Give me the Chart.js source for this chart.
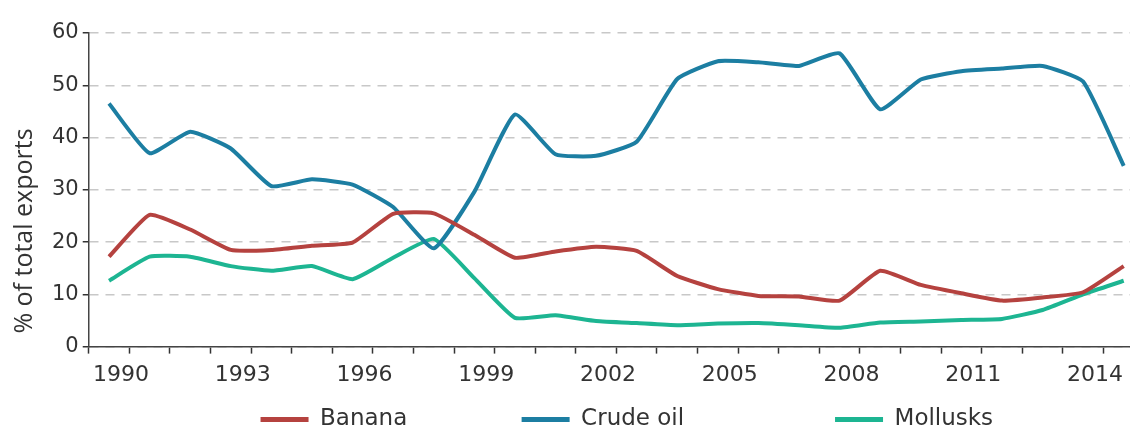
<!DOCTYPE html>
<html>
<head>
<meta charset="utf-8">
<script src="https://cdn.jsdelivr.net/npm/chart.js@4/dist/chart.umd.min.js"></script>
<style>
  html, body { margin: 0; padding: 0; background: #fff; overflow: hidden; }
  #wrap { width: 1150px; height: 441px; }
</style>
</head>
<body>
<div id="wrap"><canvas id="exportsChart"></canvas></div>
<script>
const years = ['1990', '1991', '1992', '1993', '1994', '1995', '1996', '1997', '1998', '1999',
    '2000', '2001', '2002', '2003', '2004', '2005', '2006', '2007', '2008', '2009',
    '2010', '2011', '2012', '2013', '2014', '2015'];
const banana = [17.2, 25.2, 22.4, 18.5, 18.5, 19.3, 19.9, 25.4, 25.5, 21.4,
    17.0, 18.2, 19.1, 18.3, 13.5, 11.0, 9.7, 9.6, 8.8, 14.5,
    11.8, 10.2, 8.8, 9.4, 10.4, 15.4];
const crudeOil = [46.5, 37.0, 41.1, 37.9, 30.7, 32.0, 31.0, 26.7, 18.8, 29.6,
    44.4, 36.8, 36.5, 39.2, 51.2, 54.6, 54.4, 53.7, 56.1, 45.4,
    51.1, 52.7, 53.2, 53.7, 50.7, 34.6];
const mollusks = [12.6, 17.2, 17.2, 15.4, 14.5, 15.4, 12.9, 17.0, 20.6, 13.1,
    5.5, 6.0, 4.9, 4.5, 4.1, 4.4, 4.5, 4.1, 3.6, 4.6,
    4.8, 5.1, 5.3, 7.0, 10.0, 12.6];

// extra room after each legend entry (spaces), to spread them like the original
const legendGap = [' '.repeat(14), ' '.repeat(19), ' '.repeat(19)];

document.addEventListener('DOMContentLoaded', () => {
    const ctx = document.getElementById('exportsChart').getContext('2d');
    const line = (label, data, color) => ({
        label: label,
        data: data,
        borderColor: color,
        backgroundColor: color,
        borderWidth: 4,
        pointRadius: 0,
        tension: 0.15,
        fill: false
    });
    new Chart(ctx, {
        type: 'line',
        data: {
            labels: years,
            datasets: [
                line('Banana', banana, '#b5423f'),
                line('Crude oil', crudeOil, '#1c7ea2'),
                line('Mollusks', mollusks, '#1db592')
            ]
        },
        options: {
            responsive: true,
            maintainAspectRatio: false,
            animation: false,
            layout: { padding: { top: 33, right: 6, left: 4, bottom: 0 } },
            plugins: {
                tooltip: { enabled: false },
                legend: {
                    position: 'bottom',
                    fullSize: false,
                    align: 'end',
                    labels: {
                        boxWidth: 48,
                        boxHeight: 5,
                        padding: 12,
                        color: '#333',
                        font: { family: 'DejaVu Sans', size: 23 },
                        generateLabels: (chart) => {
                            const items = Chart.defaults.plugins.legend.labels.generateLabels(chart);
                            items.forEach((it, i) => {
                                it.text += legendGap[i];
                                it.lineWidth = 0;
                            });
                            return items;
                        }
                    }
                }
            },
            scales: {
                x: {
                    offset: true,
                    grid: {
                        offset: true,
                        drawOnChartArea: false,
                        drawTicks: true,
                        tickLength: 7,
                        tickColor: '#333',
                        tickWidth: 1.5
                    },
                    border: { color: '#444', width: 1.5 },
                    ticks: {
                        autoSkip: false,
                        maxRotation: 0,
                        labelOffset: 12,
                        padding: 8,
                        color: '#333',
                        font: { family: 'DejaVu Sans', size: 22 },
                        callback: (v, i) => (i % 3 === 0 ? years[i] : '')
                    }
                },
                y: {
                    min: 0,
                    max: 60,
                    ticks: {
                        stepSize: 10,
                        padding: 4,
                        color: '#333',
                        font: { family: 'DejaVu Sans', size: 21 }
                    },
                    grid: {
                        color: '#c8c8c8',
                        lineWidth: 1.5,
                        tickLength: 6,
                        tickColor: '#333',
                        tickWidth: 1.5
                    },
                    border: { color: '#444', width: 1.5, dash: [9, 7] },
                    title: {
                        display: true,
                        text: '  % of total exports',
                        align: 'start',
                        color: '#333',
                        padding: { top: 6, bottom: 8 },
                        font: { family: 'Open Sans', size: 25 }
                    }
                }
            }
        }
    });
});
</script>
</body>
</html>
